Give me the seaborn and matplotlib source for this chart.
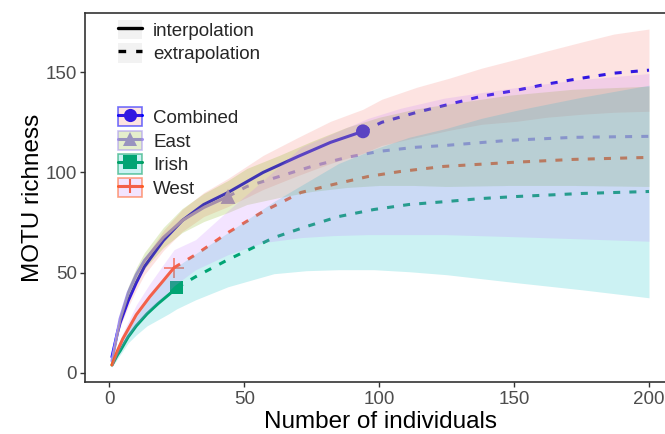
import matplotlib
matplotlib.use("Agg")
import matplotlib.pyplot as plt
import numpy as np
import pandas as pd
import seaborn as sns
from matplotlib.lines import Line2D
from matplotlib.patches import Patch
from matplotlib.colors import to_rgba

# ---------------- data ----------------
groups = ["Combined", "East", "Irish", "West"]

comb_n   = [1, 2, 3, 4, 7, 10, 13, 20, 27, 35, 44, 57, 70, 82, 94, 101, 114, 126, 138, 151, 162, 175, 187, 200]
comb_est = [8, 14, 20, 25, 36, 45, 53, 66, 76, 84, 90, 100, 108, 115, 120.5, 125, 130, 134, 138, 141, 144, 147, 149.5, 151]
comb_lo  = [7, 12.5, 18.5, 23, 33, 41.5, 49, 61, 70.5, 78, 83, 91.5, 98.5, 104.5, 109.5, 113.5, 117.5, 121, 124, 125.5, 127.5, 129, 130, 130.5]
comb_hi  = [9, 15.5, 21.5, 27, 39, 48.5, 57, 71, 81.5, 90, 97, 108.5, 117.5, 125.5, 131.5, 136.5, 142.5, 147, 152, 156.5, 160.5, 165, 169, 171.5]
comb_obs = 94

east_n   = [1, 2, 3, 4, 7, 10, 13, 20, 27, 35, 44, 51, 63, 75, 88, 100, 113, 125, 148, 172, 200]
east_est = [6, 13, 20, 27, 40, 49, 56, 67.5, 76, 82.5, 88, 93, 98, 103, 107.5, 110.5, 112.5, 113.5, 116, 117.5, 118]
east_lo  = [5, 11.5, 18.5, 25, 37, 45.5, 52, 62.5, 70, 75.5, 80, 84, 87.5, 90.5, 92.5, 93.5, 93.5, 93, 93.5, 93.5, 93]
east_hi  = [7, 14.5, 21.5, 29, 43, 52.5, 60, 72.5, 82, 89.5, 96, 102, 108.5, 115.5, 122.5, 127.5, 131.5, 134, 138.5, 141.5, 143]
east_obs = 44

irish_n   = [1, 2, 3, 4, 7, 10, 14, 18, 22, 25, 32, 44, 61, 73, 85, 98, 111, 125, 138, 151, 175, 200]
irish_est = [4, 6.5, 9, 11, 18, 23.5, 29.5, 34.5, 39, 42.5, 48, 56.5, 67.5, 73, 78, 81.5, 84, 85.5, 87, 88, 89.5, 90.5]
irish_lo  = [3, 5, 7, 9, 15, 19, 23.5, 26.5, 29.5, 32, 36.5, 43, 49.5, 51, 51.5, 51.5, 50.5, 49, 47, 45, 41.5, 37.5]
irish_hi  = [5, 8, 11, 13, 21, 28, 35.5, 42.5, 48.5, 53, 59.5, 70, 85.5, 95, 104.5, 111.5, 117.5, 122, 127, 131, 137.5, 143.5]
irish_obs = 25

west_n   = [1, 2, 3, 5, 10, 15, 20, 24, 32, 44, 57, 71, 83, 96, 108, 124, 149, 172, 200]
west_est = [4, 7.5, 11, 17, 29, 38, 46, 52.5, 59, 70, 80.5, 90, 94, 98, 100.5, 103, 105, 106.5, 107.5]
west_lo  = [3, 6, 9, 14, 24, 31.5, 38, 43.5, 51.5, 59, 65, 67.5, 68.5, 69, 69, 69, 68, 67, 65.7]
west_hi  = [5, 9, 13, 20, 34, 44.5, 54, 61.5, 66.5, 81, 96, 112.5, 119.5, 127, 132, 137, 142, 146, 149.3]
west_obs = 24

x_ticks = [0, 50, 100, 150, 200]
y_ticks = [0, 50, 100, 150]

# ---------------- styles ----------------
line_colors = {"Combined": "#0000FF", "East": "#A08DEF", "Irish": "#009E60", "West": "#FF5A1E"}
fill_colors = {"Combined": "#F8766D", "East": "#7CAE00", "Irish": "#00BFC4", "West": "#C77CFF"}
markers = {"Combined": "o", "East": "^", "Irish": "s", "West": "+"}
msize = {"Combined": 100, "East": 115, "Irish": 90, "West": 200}

series = {
    "Combined": (comb_n, comb_est, comb_lo, comb_hi, comb_obs),
    "East": (east_n, east_est, east_lo, east_hi, east_obs),
    "Irish": (irish_n, irish_est, irish_lo, irish_hi, irish_obs),
    "West": (west_n, west_est, west_lo, west_hi, west_obs),
}

rows = []
for g, (n, est, lo, hi, obs) in series.items():
    for ni, ei in zip(n, est):
        if ni <= obs:
            rows.append((g, ni, ei, "interpolation"))
        if ni >= obs:
            rows.append((g, ni, ei, "extrapolation"))
df = pd.DataFrame(rows, columns=["group", "n", "est", "method"])

sns.set_theme(style="white")
plt.rcParams["font.family"] = ["Liberation Sans", "DejaVu Sans"]

fig = plt.figure(figsize=(6.65, 4.34), dpi=100)
ax = fig.add_axes([85 / 665, 52 / 434, 591 / 665, 369 / 434])

LW = 2.2
DASH = (2.3, 3.0)
sns.lineplot(data=df, x="n", y="est", hue="group", style="method",
             hue_order=groups, palette=line_colors,
             style_order=["interpolation", "extrapolation"],
             dashes={"interpolation": "", "extrapolation": DASH},
             linewidth=LW, estimator=None, legend=False, ax=ax, zorder=2)

for g, (n, est, lo, hi, obs) in series.items():
    i = n.index(obs)
    if markers[g] == "+":
        ax.scatter([n[i]], [est[i]], marker="+", s=msize[g], color=line_colors[g],
                   alpha=0.7, linewidths=1.4, zorder=2.5)
    else:
        ax.scatter([n[i]], [est[i]], marker=markers[g], s=msize[g], color=line_colors[g],
                   edgecolor="none", zorder=2.5)

for g, (n, est, lo, hi, obs) in series.items():
    ax.fill_between(n, lo, hi, color=fill_colors[g], alpha=0.2, lw=0, zorder=3)

ax.set_xlim(-9, 210)
ax.set_ylim(-4.5, 179.5)
ax.set_xticks(x_ticks)
ax.set_yticks(y_ticks)
ax.set_xlabel("Number of individuals", fontsize=17.5, color="black", labelpad=2)
ax.set_ylabel("MOTU richness", fontsize=17.5, color="black", labelpad=1)
ax.tick_params(axis="both", which="major", labelsize=13.5, labelcolor="#4D4D4D",
               color="#333333", length=3.6, width=1.0, bottom=True, left=True)
ax.tick_params(axis="x", pad=3)
ax.tick_params(axis="y", pad=2)
for s in ax.spines.values():
    s.set_visible(True)
    s.set_color("#333333")
    s.set_linewidth(1.2)
ax.grid(False)

# legend 1: line type
h1 = [(Patch(facecolor="#F2F2F2", edgecolor="none"), Line2D([], [], color="black", lw=2.4)),
      (Patch(facecolor="#F2F2F2", edgecolor="none"), Line2D([], [], color="black", lw=2.4, dashes=DASH))]
leg1 = ax.legend(h1, ["interpolation", "extrapolation"], loc="upper left",
                 bbox_to_anchor=(118 / 665, 1 - 20 / 434), bbox_transform=fig.transFigure,
                 frameon=False, borderpad=0, borderaxespad=0, handlelength=1.28,
                 handleheight=1.2, handletextpad=0.6, labelspacing=0.18, fontsize=13.5)
ax.add_artist(leg1)

# legend 2: groups
h2 = []
for g in groups:
    c = line_colors[g]
    ln = Line2D([], [], color=c, lw=LW, marker=markers[g], markersize=9.5,
                markeredgewidth=1.5 if markers[g] == "+" else 0)
    pt = Patch(facecolor=to_rgba(fill_colors[g], 0.2), edgecolor=to_rgba(c, 0.55), lw=1.2)
    h2.append((ln, pt))
leg2 = ax.legend(h2, groups, loc="upper left",
                 bbox_to_anchor=(118 / 665, 1 - 107 / 434), bbox_transform=fig.transFigure,
                 frameon=False, borderpad=0, borderaxespad=0, handlelength=1.28,
                 handleheight=1.2, handletextpad=0.6, labelspacing=0.2, fontsize=13.5)

fig.savefig("out.png", dpi=100)
